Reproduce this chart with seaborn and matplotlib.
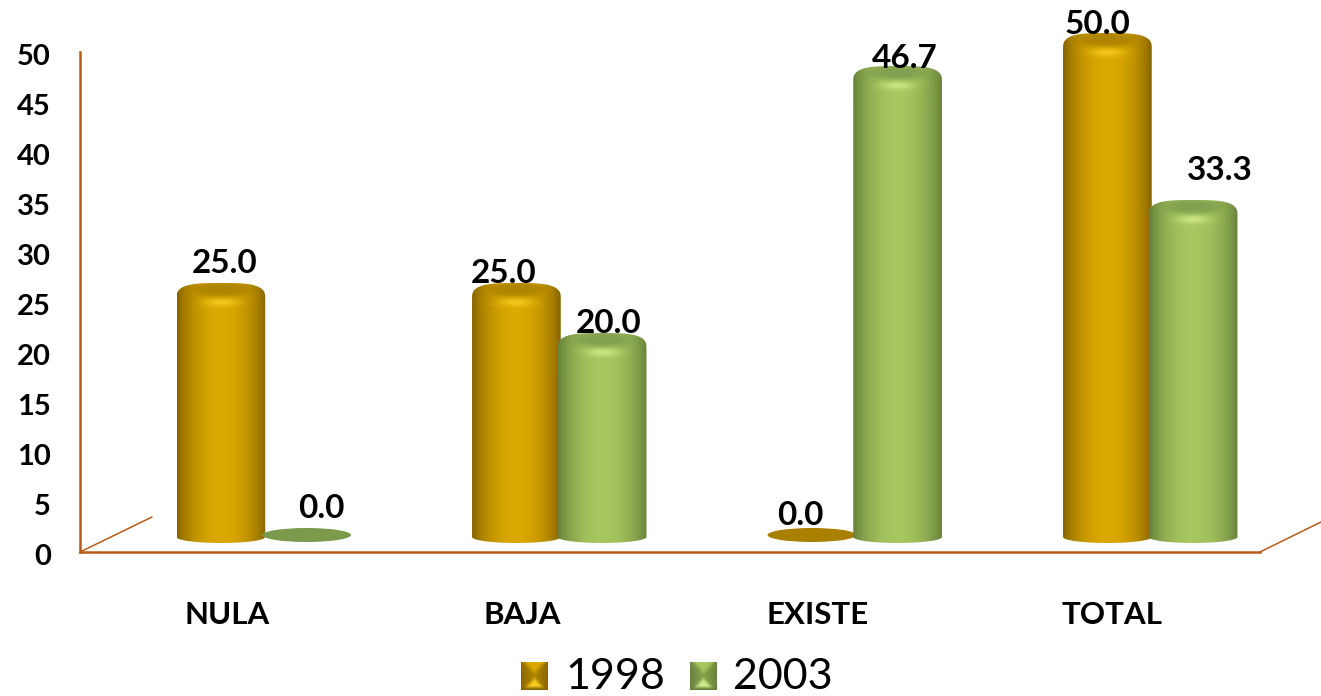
import numpy as np
import pandas as pd
import matplotlib
matplotlib.use('Agg')
import matplotlib.pyplot as plt
from matplotlib.lines import Line2D
from matplotlib.patches import Ellipse, PathPatch
from matplotlib.path import Path
from matplotlib.transforms import ScaledTranslation
import seaborn as sns

# Data
categories = ['NULA', 'BAJA', 'EXISTE', 'TOTAL']
values_1998 = [25.0, 25.0, 0.0, 50.0]
values_2003 = [0.0, 20.0, 46.7, 33.3]
years = ['1998', '2003']
y_ticks = [0, 5, 10, 15, 20, 25, 30, 35, 40, 45, 50]

# label nudges in pixels, the labels were placed by hand in the original
label_nudge = {
    '1998': [(4, 10), (-13, 0), (-12, 8), (-10, -1)],
    '2003': [(15, 15), (7, 0), (7, -2), (27, 20)],
}

W, H = 1321, 696
AXIS_COLOR = '#b65a14'
colors = {
    '1998': {'edge': '#876500', 'mid': '#dba900', 'cap': '#a98000', 'spot': '#f8ca20', 'flat': '#a98000'},
    '2003': {'edge': '#67823a', 'mid': '#a8c75f', 'cap': '#7f9c4f', 'spot': '#cfe88a', 'flat': '#7b9a4c'},
}

sns.set_theme(style='white')
plt.rcParams['font.family'] = ['Lato', 'DejaVu Sans']

df = pd.DataFrame({
    'categoria': categories * 2,
    'anio': [years[0]] * 4 + [years[1]] * 4,
    'valor': values_1998 + values_2003,
})


def rgb(c):
    return np.array(matplotlib.colors.to_rgb(c))


# cylinder shading for one bar, top row first
def bar_image(pal, nx, ny):
    u = np.linspace(-1, 1, nx)
    d = np.arange(ny)[:, None]
    shade = (1 - np.abs(u) ** 2.0)[None, :, None] ** 0.9
    img = rgb(pal['edge']) * (1 - shade) + rgb(pal['mid']) * shade
    img = np.broadcast_to(img, (ny, nx, 3)).copy()
    uu = u[None, :]
    cap = 0.9 * np.exp(-((uu / 0.68) ** 2 + ((d - 6) / 8.0) ** 2) ** 2)[:, :, None]
    img = img * (1 - cap) + rgb(pal['cap']) * cap
    spot = 0.9 * np.exp(-((uu / 0.36) ** 2 + ((d - 19) / 4.0) ** 2))[:, :, None]
    img = img * (1 - spot) + rgb(pal['spot']) * spot
    return np.clip(img, 0, 1)


# outline of a bar: rounded shoulders on top, shallow curve at the bottom
def bar_outline(x0, x1, top, shoulder, drop):
    xc, rx = (x0 + x1) / 2, (x1 - x0) / 2
    t = np.linspace(0, np.pi, 60)
    c, s = np.cos(t), np.sin(t)
    xt = xc + rx * np.sign(c) * np.abs(c) ** 0.6
    yt = top - shoulder + shoulder * s ** 0.7
    b = np.linspace(np.pi, 2 * np.pi, 40)
    xb = xc + rx * np.cos(b)
    yb = -drop * 0.4 + drop * 0.6 * np.sin(b)
    return np.column_stack([np.r_[xt, xb], np.r_[yt, yb]])


fig = plt.figure(figsize=(W / 100, H / 100), dpi=100, facecolor='white')

# front frame carrying the axis, bars sit further back on the floor
ax_front = fig.add_axes([80 / W, (H - 552) / H, 1180 / W, 500 / H])
# bar axes reach 2 units under zero so the curved bar bottoms are not cut
ax = fig.add_axes([116 / W, (H - 553) / H, 1182 / W, 520 / H])
ax.patch.set_alpha(0)

sns.barplot(data=df, x='categoria', y='valor', hue='anio', order=categories,
            hue_order=years, palette=[colors[y]['mid'] for y in years],
            width=0.58, gap=0, errorbar=None, legend=False, ax=ax)
ax.set_ylim(-2, 50)
ax.axis('off')
xlim, ylim = ax.get_xlim(), ax.get_ylim()

px_x = (xlim[1] - xlim[0]) / 1182
px_y = 52 / 520

for year, container in zip(years, ax.containers):
    pal = colors[year]
    for patch, nudge in zip(container.patches, label_nudge[year]):
        patch.set_visible(False)
        val = patch.get_height()
        x0 = patch.get_x() - 1.5 * px_x
        x1 = patch.get_x() + patch.get_width() + 1.5 * px_x
        xc = (x0 + x1) / 2
        if val == 0:
            ax.add_patch(Ellipse((xc, -2 * px_y), x1 - x0, 14 * px_y, facecolor=pal['flat'],
                                 edgecolor='none', zorder=5))
        else:
            drop = 10 * px_y
            nx, ny = 88, int(round(val / px_y)) + 10
            im = ax.imshow(bar_image(pal, nx, ny), extent=(x0, x1, -drop, val), aspect='auto',
                           interpolation='bilinear', zorder=5)
            clip = PathPatch(Path(bar_outline(x0, x1, val, 15 * px_y, drop), closed=False),
                             transform=ax.transData, facecolor='none', edgecolor='none')
            ax.add_patch(clip)
            im.set_clip_path(clip)
        ax.annotate(f'{val:.1f}', xy=(patch.get_x() + patch.get_width() / 2, val), xytext=nudge,
                    textcoords='offset pixels', ha='center', va='baseline', fontsize=24,
                    fontweight='bold', color='black', zorder=6, annotation_clip=False)
ax.set_xlim(xlim)
ax.set_ylim(ylim)

# axis
ax_front.set_xlim(-0.5, 3.5)
ax_front.set_ylim(0, 50)
ax_front.set_xticks(range(len(categories)))
ax_front.set_xticklabels(categories)
ax_front.set_yticks(y_ticks)
ax_front.tick_params(axis='x', length=0, pad=33, labelsize=22.5)
ax_front.tick_params(axis='y', length=0, pad=21, labelsize=21)
nudge_down = ScaledTranslation(0, -2 / 72, fig.dpi_scale_trans)
for lab in ax_front.get_xticklabels() + ax_front.get_yticklabels():
    lab.set_fontweight('bold')
    lab.set_color('black')
    lab.set_transform(lab.get_transform() + nudge_down)
sns.despine(ax=ax_front, top=True, right=True)
for side in ['left', 'bottom']:
    ax_front.spines[side].set_color(AXIS_COLOR)
    ax_front.spines[side].set_linewidth(1.8)

# floor depth lines
fig.add_artist(Line2D([80 / W, 152 / W], [(H - 552) / H, (H - 517) / H], color=AXIS_COLOR, lw=1.1))
fig.add_artist(Line2D([1260 / W, 1321 / W], [(H - 552) / H, (H - 522) / H], color=AXIS_COLOR, lw=1.1))


# legend swatch, a small bevelled square with a lit lower triangle
def swatch(pal, n=28):
    v = np.linspace(-1, 1, n)
    xx, yy = np.meshgrid(v, v)
    img = np.zeros((n, n, 3)) + 0.5 * (rgb(pal['mid']) + rgb(pal['edge']))
    side = np.clip(np.abs(xx) - np.abs(yy) * 0.2, 0, 1)[:, :, None]
    img = img * (1 - side) + rgb(pal['edge']) * side
    top = np.clip((-yy - np.abs(xx)) * 2, 0, 1)[:, :, None]
    img = img * (1 - top) + rgb(pal['mid']) * top
    low = np.clip((yy - np.abs(xx)) * 2.5, 0, 1)[:, :, None]
    img = img * (1 - low) + rgb(pal['spot']) * low
    band = np.clip((yy - 0.72) * 4, 0, 1)[:, :, None]
    img = img * (1 - band) + rgb(pal['edge']) * band
    return np.clip(img, 0, 1)


for year, sx, tx in zip(years, [521, 690], [565, 733]):
    sw = fig.add_axes([sx / W, (H - 690) / H, 27 / W, 28 / H])
    sw.imshow(swatch(colors[year]), aspect='auto', interpolation='bilinear')
    sw.axis('off')
    fig.text(tx / W, (H - 689) / H, year, fontsize=31, color='black', ha='left', va='baseline')

fig.savefig('out.png', dpi=100, facecolor='white')
